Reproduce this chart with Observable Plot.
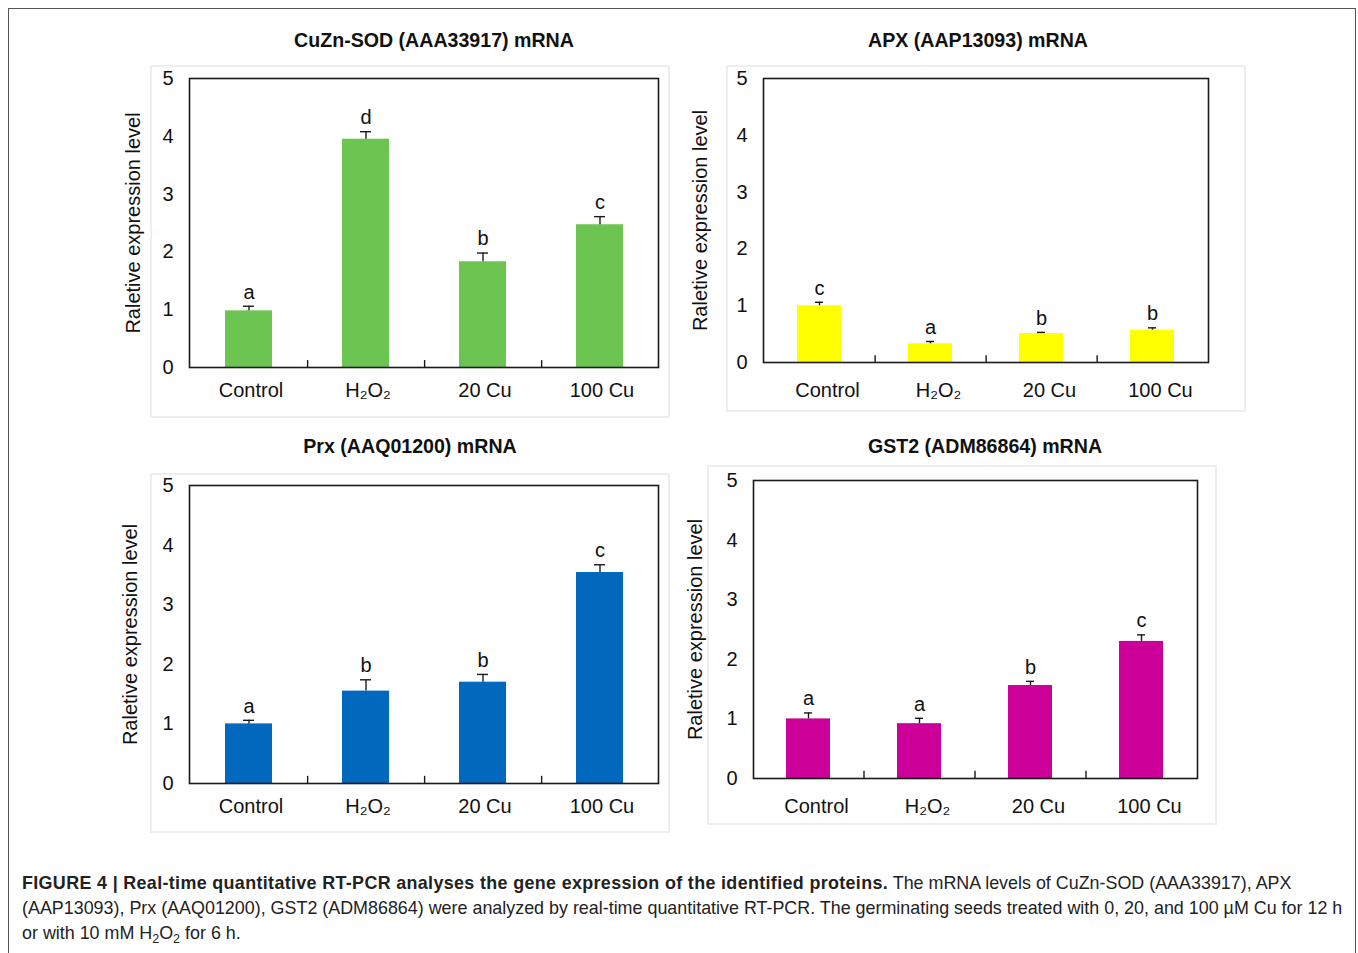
<!DOCTYPE html>
<html><head><meta charset="utf-8">
<script src="https://cdn.jsdelivr.net/npm/d3@7"></script>
<script src="https://cdn.jsdelivr.net/npm/@observablehq/plot@0.6"></script>
<style>
html,body{margin:0;padding:0;background:#fff;width:1358px;height:953px;overflow:hidden;font-family:"Liberation Sans",Arial,sans-serif;}
.outer{position:absolute;left:8px;top:8px;width:1348px;height:1000px;border:1.5px solid #555;box-sizing:border-box}
.box{position:absolute;border:2px solid #eeeeee;box-sizing:border-box}
.title{position:absolute;font-weight:bold;font-size:19.6px;transform:translate(-50%,-50%);white-space:nowrap;color:#111}
.panel{position:absolute}
.caption{position:absolute;left:22px;top:871px;font-size:17.9px;line-height:25px;color:#222;white-space:nowrap}
.caption b{letter-spacing:0.35px}
.caption sub{font-size:12.5px;vertical-align:-4px;line-height:0}
</style></head><body>
<div class="outer"></div>
<div id="root"></div>
<div class="caption"><b>FIGURE 4 | Real-time quantitative RT-PCR analyses the gene expression of the identified proteins.</b> The mRNA levels of CuZn-SOD (AAA33917), APX<br>(AAP13093), Prx (AAQ01200), GST2 (ADM86864) were analyzed by real-time quantitative RT-PCR. The germinating seeds treated with 0, 20, and 100 µM Cu for 12 h<br>or with 10 mM H<sub>2</sub>O<sub>2</sub> for 6 h.</div>
<script>
// ---- data ----
const categories = ["Control", "H₂O₂", "20 Cu", "100 Cu"];
const yTicks = [0, 1, 2, 3, 4, 5];
const yLabel = "Raletive expression level";

const sodTitle = "CuZn-SOD (AAA33917) mRNA";
const sodValues = [0.98, 3.95, 1.83, 2.47];
const sodErrors = [0.08, 0.13, 0.15, 0.14];
const sodLetters = ["a", "d", "b", "c"];

const apxTitle = "APX (AAP13093) mRNA";
const apxValues = [1.00, 0.33, 0.51, 0.57];
const apxErrors = [0.06, 0.04, 0.02, 0.04];
const apxLetters = ["c", "a", "b", "b"];

const prxTitle = "Prx (AAQ01200) mRNA";
const prxValues = [1.00, 1.55, 1.70, 3.54];
const prxErrors = [0.06, 0.19, 0.13, 0.13];
const prxLetters = ["a", "b", "b", "c"];

const gstTitle = "GST2 (ADM86864) mRNA";
const gstValues = [1.00, 0.92, 1.56, 2.30];
const gstErrors = [0.10, 0.09, 0.07, 0.11];
const gstLetters = ["a", "a", "b", "c"];

// ---- layout / style ----
const panels = [
  {title: sodTitle, values: sodValues, errors: sodErrors, letters: sodLetters, color: "#6cc551",
   L: 189, R: 658, T: 78, B: 367, box: [150, 65, 670, 418], tx: 434, ty: 40, labelDx: 2, labelPad: 16, yLabelDx: -56},
  {title: apxTitle, values: apxValues, errors: apxErrors, letters: apxLetters, color: "#ffff00",
   L: 763, R: 1208, T: 78, B: 362, box: [726, 65, 1246, 412], tx: 978, ty: 40, labelDx: 8, labelPad: 21, yLabelDx: -63},
  {title: prxTitle, values: prxValues, errors: prxErrors, letters: prxLetters, color: "#0068bd",
   L: 189, R: 658, T: 485, B: 783, box: [150, 473, 670, 833], tx: 410, ty: 446, labelDx: 2, labelPad: 16, yLabelDx: -59},
  {title: gstTitle, values: gstValues, errors: gstErrors, letters: gstLetters, color: "#cc0099",
   L: 753, R: 1197, T: 480, B: 778, box: [707, 465, 1217, 825], tx: 985, ty: 446, labelDx: 8, labelPad: 21, yLabelDx: -58}
];

const root = document.getElementById("root");
const font = "'Liberation Sans', Arial, sans-serif";

for (const p of panels) {
  const box = document.createElement("div");
  box.className = "box";
  Object.assign(box.style, {left: p.box[0] + "px", top: p.box[1] + "px",
    width: (p.box[2] - p.box[0]) + "px", height: (p.box[3] - p.box[1]) + "px"});
  root.appendChild(box);

  const t = document.createElement("div");
  t.className = "title";
  t.textContent = p.title;
  Object.assign(t.style, {left: p.tx + "px", top: p.ty + "px"});
  root.appendChild(t);

  const ml = 80, mr = 20, mt = 20, mb = 60;
  const fw = p.R - p.L, fh = p.B - p.T;
  const step = fw / categories.length;
  const data = categories.map((c, i) => ({cat: c, value: p.values[i], err: p.errors[i], letter: p.letters[i]}));
  const ink = "#1a1a1a";

  const chart = Plot.plot({
    width: fw + ml + mr, height: fh + mt + mb,
    marginLeft: ml, marginRight: mr, marginTop: mt, marginBottom: mb,
    style: {background: "transparent", fontFamily: font, fontSize: "20px", color: "#111", overflow: "visible"},
    x: {domain: categories, paddingInner: 0.6, paddingOuter: 0.3},
    y: {domain: [0, 5]},
    marks: [
      Plot.barY(data, {x: "cat", y: "value", fill: p.color}),
      Plot.ruleX(data, {x: "cat", y1: "value", y2: d => d.value + d.err, stroke: ink, strokeWidth: 1.4}),
      Plot.tickY(data, {x: "cat", y: d => d.value + d.err, stroke: ink, strokeWidth: 1.4, insetLeft: 18, insetRight: 18}),
      Plot.text(data, {x: "cat", y: d => d.value + d.err, text: "letter", dy: -14, fontSize: 20, fill: "#111"}),
      Plot.ruleX(categories.slice(0, -1), {x: d => d, y1: 0, y2: 0.12, dx: step / 2, stroke: ink, strokeWidth: 1.4}),
      Plot.axisX({tickSize: 0, tickPadding: p.labelPad - 1, dx: p.labelDx, label: null, fontSize: 20, fill: "#111"}),
      Plot.axisY({ticks: yTicks, tickFormat: d3.format("d"), tickSize: 0, tickPadding: 16, label: null, fontSize: 20, fill: "#111"}),
      Plot.frame({stroke: ink, strokeWidth: 1.6}),
      Plot.text([yLabel], {frameAnchor: "left", text: d => d, rotate: -90, textAnchor: "middle", dx: p.yLabelDx, fontSize: 20, fill: "#111"})
    ]
  });
  const wrap = document.createElement("div");
  wrap.className = "panel";
  Object.assign(wrap.style, {left: (p.L - ml) + "px", top: (p.T - mt) + "px"});
  wrap.appendChild(chart);
  root.appendChild(wrap);
}
</script>
</body></html>
